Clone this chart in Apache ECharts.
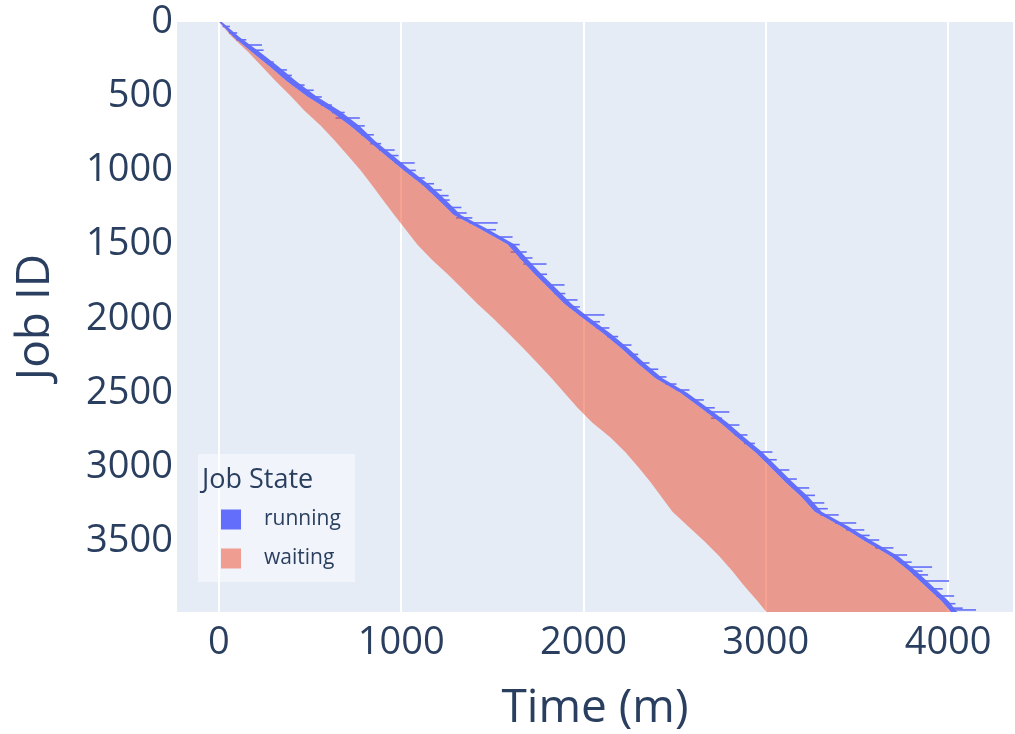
<!DOCTYPE html>
<html><head><meta charset="utf-8">
<script src="https://cdn.jsdelivr.net/npm/echarts@6/dist/echarts.min.js"></script>
<style>html,body{margin:0;background:#fff}#c{width:1015px;height:734px}</style>
</head><body><div id="c"></div>
<script>
// Job IDs sampled along the band
const jobIds = [0,100,200,300,400,500,600,700,800,900,1000,1100,1200,1300,1400,1500,1600,1700,1800,1900,2000,2100,2200,2300,2400,2500,2600,2700,2800,2900,3000,3100,3200,3300,3400,3500,3600,3700,3800,3900,3976];
// submit time (start of waiting), minutes
const submitTimes = [0,71,159,236,312,395,471,559,636,707,778,840,900,962,1025,1088,1167,1255,1337,1419,1507,1589,1671,1748,1825,1896,1967,2049,2148,2230,2301,2367,2427,2488,2575,2663,2745,2816,2882,2953,3003];
// start time (end of waiting / start of running), minutes
const startTimes = [2,78,178,278,372,482,610,720,818,914,1014,1118,1204,1288,1440,1584,1656,1732,1814,1896,2000,2108,2208,2296,2394,2532,2642,2750,2844,2942,3026,3106,3194,3268,3414,3544,3686,3786,3874,3962,4016];
// typical end time of running jobs, minutes
const endTimes = [16,110,222,326,424,534,664,770,855,954,1053,1157,1244,1327,1480,1622,1694,1770,1853,1935,2039,2148,2247,2335,2433,2570,2680,2790,2883,2981,3064,3146,3233,3306,3453,3584,3727,3825,3913,4001,4050];
// long-running jobs: [jobId, start, end]
const longJobs = [[30,20,60],[74,55,100],[120,95,150],[155,140,236],[190,180,245],[270,255,300],[323,312,373],[360,345,400],[425,405,470],[460,455,520],[505,503,564],[560,560,620],[610,620,690],[647,640,773],[700,725,800],[760,780,850],[820,830,890],[863,878,964],[900,925,985],[950,968,1074],[1000,1020,1080],[1051,1070,1129],[1090,1110,1180],[1132,1150,1222],[1170,1190,1260],[1200,1208,1266],[1250,1260,1330],[1287,1280,1359],[1320,1300,1390],[1354,1375,1529],[1400,1450,1520],[1449,1520,1611],[1500,1590,1650],[1550,1600,1688],[1590,1650,1720],[1631,1670,1797],[1700,1740,1800],[1772,1795,1896],[1830,1840,1900],[1873,1880,1967],[1920,1920,1980],[1974,1977,2115],[2020,2030,2090],[2062,2070,2142],[2120,2130,2190],[2177,2195,2263],[2240,2250,2300],[2298,2298,2362],[2340,2350,2410],[2392,2395,2455],[2440,2450,2510],[2480,2510,2581],[2547,2590,2660],[2600,2650,2720],[2628,2676,2800],[2670,2700,2760],[2716,2770,2855],[2783,2830,2899],[2840,2880,2940],[2898,2946,3036],[2950,2990,3060],[3019,3046,3129],[3080,3100,3170],[3140,3150,3238],[3190,3200,3270],[3241,3235,3321],[3280,3260,3340],[3322,3300,3400],[3376,3380,3496],[3423,3440,3540],[3460,3500,3570],[3491,3540,3622],[3544,3600,3700],[3592,3680,3775],[3640,3730,3800],[3673,3770,3912],[3700,3790,3860],[3726,3810,3890],[3767,3850,4005],[3820,3900,3970],[3868,3935,4033],[3920,3980,4040],[3950,4000,4080],[3962,4010,4153]];
const xTicks = [0,1000,2000,3000,4000];
const yTicks = [0,500,1000,1500,2000,2500,3000,3500];

const FONT = '"Open Sans", verdana, arial, sans-serif';
const TXT = '#2a3f5f';
const RUN = '#636efa';
const WAIT = 'rgba(239,85,59,0.55)';

function bandRenderer(leftArr, rightArr, color) {
  return function (params, api) {
    const pts = [];
    for (let i = 0; i < jobIds.length; i++) pts.push(api.coord([leftArr[i], jobIds[i]]));
    for (let i = jobIds.length - 1; i >= 0; i--) pts.push(api.coord([rightArr[i], jobIds[i]]));
    return {type: 'polygon', shape: {points: pts}, style: {fill: color}};
  };
}

const chart = echarts.init(document.getElementById('c'), null, {renderer: 'canvas'});
chart.setOption({
  animation: false,
  backgroundColor: '#fff',
  textStyle: {fontFamily: FONT},
  grid: {left: 177, right: 2, top: 22, bottom: 122, outerBoundsMode: 'none', containLabel: false,
         show: true, backgroundColor: '#E5ECF6', borderWidth: 0},
  xAxis: {
    type: 'value', min: -230, max: 4356,
    name: 'Time (m)', nameLocation: 'middle', nameGap: 74,
    nameTextStyle: {fontSize: 46, color: TXT, fontFamily: FONT},
    axisLine: {show: false}, axisTick: {show: false}, splitLine: {show: false},
    axisLabel: {customValues: xTicks, formatter: v => String(v), fontSize: 38, color: TXT, margin: 12, fontFamily: FONT}
  },
  yAxis: {
    type: 'value', inverse: true, min: 0, max: 3976,
    name: 'Job ID', nameLocation: 'middle', nameGap: 118,
    nameTextStyle: {fontSize: 46, color: TXT, fontFamily: FONT},
    axisLine: {show: false}, axisTick: {show: false}, splitLine: {show: false},
    axisLabel: {customValues: yTicks, formatter: v => String(v), fontSize: 38, color: TXT, margin: 4, fontFamily: FONT}
  },
  legend: {
    orient: 'vertical', left: 221, top: 509, padding: 0, itemGap: 18,
    itemWidth: 20, itemHeight: 20, icon: 'rect', z: 6,
    data: ['running', 'waiting'],
    textStyle: {fontSize: 21, color: TXT, fontFamily: FONT, padding: [0, 0, 0, 18], lineHeight: 20}
  },
  graphic: [
    {type: 'rect', z: 5, shape: {x: 198, y: 454, width: 157, height: 128}, style: {fill: 'rgba(255,255,255,0.45)'}},
    {type: 'text', z: 6, left: 202, top: 467, style: {text: 'Job State', fontSize: 27, fill: TXT, fontFamily: FONT}}
  ],
  series: [
    {
      type: 'custom', name: 'gridlines', silent: true, data: [], z: 1,
      markLine: {silent: true, z: 1, symbol: 'none', label: {show: false},
        lineStyle: {color: '#fff', width: 2, type: 'solid'},
        data: xTicks.map(v => ({xAxis: v}))}
    },
    {
      type: 'custom', name: 'running', clip: true, z: 3,
      itemStyle: {color: RUN},
      data: [[startTimes[0], jobIds[0]]],
      renderItem: bandRenderer(startTimes, endTimes, RUN)
    },
    {
      type: 'custom', name: 'running', clip: true, z: 3,
      itemStyle: {color: RUN},
      data: longJobs.map(d => [d[1], d[0], d[2]]),
      encode: {x: [0, 2], y: 1},
      renderItem: function (params, api) {
        const p0 = api.coord([api.value(0), api.value(1)]);
        const p1 = api.coord([api.value(2), api.value(1)]);
        return {type: 'rect', shape: {x: p0[0], y: p0[1] - 0.8, width: p1[0] - p0[0], height: 1.6}, style: {fill: RUN}};
      }
    },
    {
      type: 'custom', name: 'waiting', clip: true, z: 4,
      itemStyle: {color: WAIT},
      data: [[submitTimes[0], jobIds[0]]],
      renderItem: bandRenderer(submitTimes, startTimes, WAIT)
    }
  ]
});
</script></body></html>
